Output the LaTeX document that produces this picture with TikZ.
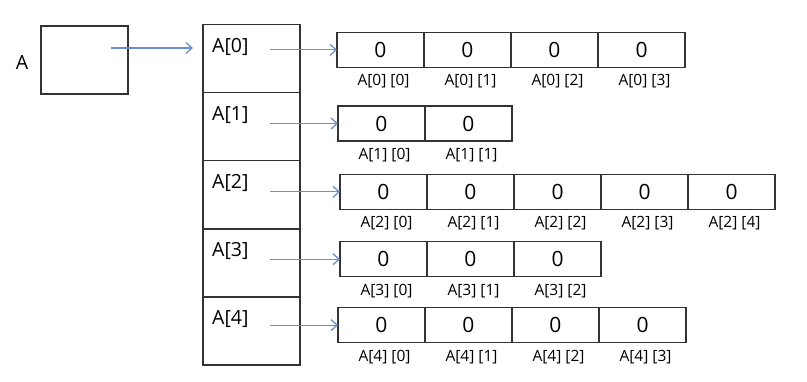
\documentclass[tikz,border=0pt]{standalone}
\usepackage{fontspec}
\setmainfont{Open Sans}
\usetikzlibrary{positioning,arrows.meta,calc}
\definecolor{ptr}{HTML}{6A90C8}
\definecolor{cellline}{HTML}{333333}

\begin{document}
\begin{tikzpicture}[
  x=1pt, y=-1pt,
  >={Straight Barb[length=6pt,width=11pt]},
  box/.style={draw=cellline, line width=1.5pt, inner sep=0pt, outer sep=0pt},
  slot/.style={box, minimum width=97pt, minimum height=68.1pt},
  cell/.style={box, minimum width=87pt, minimum height=35pt, anchor=north west,
    font=\fontsize{21}{24}\selectfont},
  idx/.style={font=\fontsize{15.5}{17}\selectfont, anchor=north, inner sep=0pt},
  lbl/.style={font=\fontsize{19.5}{22}\selectfont, inner sep=0pt},
  arr/.style={->, draw=ptr, line width=1.3pt},
]
\useasboundingbox (0,0) rectangle (807,381);

% --- Pointer A ------------------------------------------------------------
\node[box, minimum width=87pt, minimum height=68pt, anchor=north west] (A) at (41,26) {};
\node[lbl] (Aname) at (22,63) {A};

% --- Column of row pointers A[0] ... A[4] ----------------------------------
\node[slot, anchor=north west] (slot0) at (203,24.5) {};
\node[slot, below=0pt of slot0] (slot1) {};
\node[slot, below=0pt of slot1] (slot2) {};
\node[slot, below=0pt of slot2] (slot3) {};
\node[slot, below=0pt of slot3] (slot4) {};
\foreach \i in {0,...,4}
  \node[lbl, anchor=base west] (name\i) at ([xshift=9pt,yshift=-27.8pt]slot\i.north west) {A[\i]};

\coordinate (Atail) at ([xshift=-17pt,yshift=12pt]A.east);
\coordinate (Ahead) at ([xshift=-10pt]slot0.west |- Atail);
\draw[arr] (Atail) -- (Ahead);

% --- Rows: row / number of cells / top edge / left edge -------------------
\foreach \r/\n/\top/\left in {0/4/32.3/337, 1/2/106/338, 2/5/174.3/340, 3/3/241.7/340, 4/4/307.7/338} {
  \foreach \c in {1,...,\n} {
    \pgfmathtruncatemacro\k{\c-1}
    \node[cell] (c\r-\k) at ({\left+87*\k},\top) {0};
    \node[idx] (i\r-\k) at ([xshift=3pt,yshift=-7pt]c\r-\k.south) {A[\r] [\k]};
  }
  \path (c\r-0.west -| slot\r.east) ++(-30,0) coordinate (p\r);
  \draw[arr] (p\r) -- (c\r-0.west);
}

\end{tikzpicture}
\end{document}
